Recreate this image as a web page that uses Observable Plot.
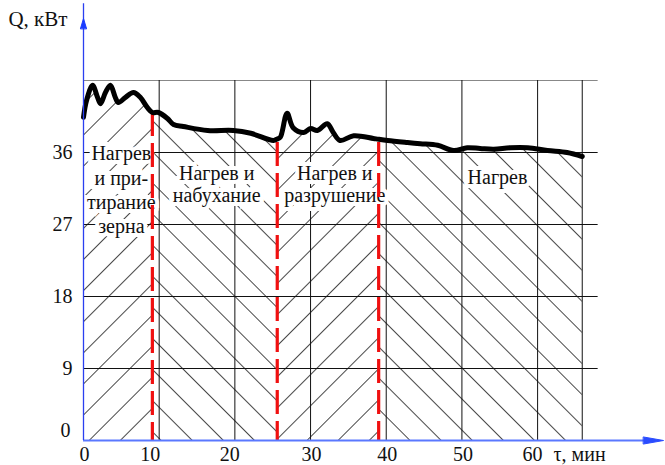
<!DOCTYPE html>
<html>
<head>
<meta charset="utf-8">
<script src="https://cdn.jsdelivr.net/npm/d3@7"></script>
<script src="https://cdn.jsdelivr.net/npm/@observablehq/plot@0.6"></script>
<style>
  html, body { margin: 0; padding: 0; background: #fff; }
  svg text { font-family: "Liberation Serif", "DejaVu Serif", serif !important; }
</style>
</head>
<body>
<div id="chart"></div>
<script>
// Time, min
const tValues = [0, 0.4, 1.2, 1.85, 2.25, 2.9, 3.55, 4.2, 4.6, 5.55, 6.6, 7.5, 8.45, 9.1, 9.9, 11.1, 11.9, 13.2, 16.4, 19.8, 22.1, 25.1, 25.6, 26.0, 26.9, 27.7, 29.1, 30.0, 30.9, 32.2, 33.0, 33.9, 35.7, 38.3, 39.0, 40.2, 42.8, 44.5, 46.8, 48.9, 50.7, 52.4, 54.2, 56.4, 58.7, 61.3, 63.9, 65.9];
// Power Q, kW
const qValues = [40.4, 42.5, 44.4, 42.9, 42.1, 43.5, 44.4, 42.9, 42.25, 42.9, 43.5, 42.9, 41.6, 41.0, 41.0, 40.25, 39.5, 39.25, 38.75, 38.75, 38.4, 37.5, 37.7, 37.9, 40.9, 39.1, 38.5, 39.0, 38.75, 39.6, 38.5, 37.5, 38.1, 37.75, 37.65, 37.5, 37.25, 37.1, 36.9, 36.25, 36.6, 36.5, 36.4, 36.6, 36.6, 36.25, 36.0, 35.5];

// Stage boundaries (min) and the top of each red dashed line (kW)
const stageBounds = [0, 9.1, 25.6, 39.0, 65.9];
const dividerT = [9.1, 25.6, 39.0];
const dividerTop = [41.0, 37.25, 37.25];

// Stage labels
const stageLabels = ["Нагрев\nи при-\nтирание\nзерна", "Нагрев и\nнабухание", "Нагрев и\nразрушение", "Нагрев"];
const stageLabelT = [5.0, 17.6, 33.2, 54.7];
const stageLabelQ = [37.15, 34.5, 34.5, 34.0];

// Grid and ticks
const gridX = [10, 20, 30, 40, 50, 60, 65.9];
const gridY = [9, 18, 27, 36];
const gridTop = 45;
const gridRightY = 68;
const xTicksA = [0, 30, 40, 50];
const xTicksB = [20, 60];
const xTicksC = [10];
const yTicks = [9, 18, 27, 36];
const yZero = [0];
const yTitle = "Q, кВт";
const xTitle = "τ, мин";
const xArrowBase = 74.0;
const yAxisEnd = 54.6;
const yArrowBase = 51.5;

const curve = tValues.map((t, i) => ({t, Q: qValues[i]}));
const stages = stageBounds.slice(0, -1).map((b, i) =>
  curve.filter(p => p.t >= b && p.t <= stageBounds[i + 1]));
const dividers = dividerT.map((t, i) => ({t, top: dividerTop[i]}));
const labels = stageLabels.map((s, i) => ({s, t: stageLabelT[i], Q: stageLabelQ[i]}));

const patterns = ["url(#hatchF)", "url(#hatchB)", "url(#hatchF)", "url(#hatchB)"];
const lineH = [1.21, 1.1, 1.1, 1.1];

const serif = "Liberation Serif";

const triShape = {
  draw(context, l, r) {
    context.moveTo(-r, 0);
    context.lineTo(0, -l);
    context.lineTo(r, 0);
    context.closePath();
  }
};

const marks = [];
stages.forEach((pts, i) => {
  marks.push(Plot.areaY(pts, {x: "t", y: "Q", fill: patterns[i], curve: "catmull-rom"}));
});
marks.push(
  Plot.ruleY(gridY, {x1: 0, x2: gridRightY, stroke: "#111", strokeWidth: 1}),
  Plot.ruleY([gridTop], {x1: 0, x2: gridRightY, stroke: "#888", strokeWidth: 1.2}),
  Plot.ruleX(gridX, {y1: 0, y2: gridTop, stroke: "#111", strokeWidth: 1})
);
labels.forEach((d, i) => {
  marks.push(Plot.text([d], {
    x: "t", y: "Q", text: "s", lineAnchor: "top", lineHeight: lineH[i],
    fontSize: 20, fontFamily: serif, fill: "#111",
    stroke: "white", strokeWidth: 8, paintOrder: "stroke", strokeLinejoin: "miter"
  }));
});
marks.push(
  Plot.ruleX(dividers, {x: "t", y1: "top", y2: 0, stroke: "#f01010", strokeWidth: 3.2, strokeDasharray: "24,7"}),
  Plot.line(curve, {x: "t", y: "Q", stroke: "black", strokeWidth: 5, curve: "catmull-rom", strokeLinejoin: "round", strokeLinecap: "round"}),
  // axes
  Plot.ruleY([0], {x1: 0, x2: xArrowBase + 1, stroke: "#5a78ff", strokeWidth: 2}),
  Plot.ruleX([0], {y1: 0, y2: yAxisEnd, stroke: "#2a3ff0", strokeWidth: 1.3}),
  Plot.vector([{t: xArrowBase, Q: 0}], {x: "t", y: "Q", rotate: 90, length: 20, r: 3.5, anchor: "start", shape: triShape, fill: "#2a4cff", stroke: "#2a4cff", strokeWidth: 1}),
  Plot.vector([{t: 0, Q: yArrowBase}], {x: "t", y: "Q", rotate: 0, length: 10, r: 3, anchor: "start", shape: triShape, fill: "#1a3cff", stroke: "#1a3cff", strokeWidth: 1}),
  // tick labels
  Plot.text(xTicksA, {x: d => d, y: 0, dy: 6, dx: 1, lineAnchor: "top", fontSize: 20, fontFamily: serif, fill: "#111"}),
  Plot.text(xTicksB, {x: d => d, y: 0, dy: 6, dx: -5, lineAnchor: "top", fontSize: 20, fontFamily: serif, fill: "#111"}),
  Plot.text(xTicksC, {x: d => d, y: 0, dy: 6, dx: -9, lineAnchor: "top", fontSize: 20, fontFamily: serif, fill: "#111"}),
  Plot.text(yTicks, {x: 0, y: d => d, dx: -11, textAnchor: "end", fontSize: 20, fontFamily: serif, fill: "#111"}),
  Plot.text(yZero, {x: 0, y: d => d, dx: -13, dy: -10, textAnchor: "end", fontSize: 20, fontFamily: serif, fill: "#111"}),
  Plot.text([yTitle], {frameAnchor: "top-left", dx: -16, dy: 11, textAnchor: "end", lineAnchor: "top", fontSize: 21, fontFamily: serif, fill: "#111"}),
  Plot.text([xTitle], {frameAnchor: "bottom-right", dx: -112, dy: 6, textAnchor: "start", lineAnchor: "top", fontSize: 20, fontFamily: serif, fill: "#111"})
);

const chart = Plot.plot({
  width: 665,
  height: 465,
  marginLeft: 83,
  marginRight: 0,
  marginTop: 0,
  marginBottom: 25,
  x: {domain: [0, 76.9], axis: null},
  y: {domain: [0, 55], axis: null},
  style: {background: "white", fontFamily: serif, overflow: "visible"},
  marks
});

// hatch patterns
const ns = "http://www.w3.org/2000/svg";
const defs = document.createElementNS(ns, "defs");
[["hatchF", 45], ["hatchB", -45]].forEach(([id, ang]) => {
  const p = document.createElementNS(ns, "pattern");
  p.setAttribute("id", id);
  p.setAttribute("patternUnits", "userSpaceOnUse");
  p.setAttribute("width", "22");
  p.setAttribute("height", "22");
  p.setAttribute("patternTransform", `rotate(${ang})`);
  const r = document.createElementNS(ns, "rect");
  r.setAttribute("x", "0");
  r.setAttribute("y", "0");
  r.setAttribute("width", "0.9");
  r.setAttribute("height", "22");
  r.setAttribute("fill", "#333");
  p.appendChild(r);
  defs.appendChild(p);
});
chart.insertBefore(defs, chart.firstChild);

document.getElementById("chart").appendChild(chart);
</script>
</body>
</html>
